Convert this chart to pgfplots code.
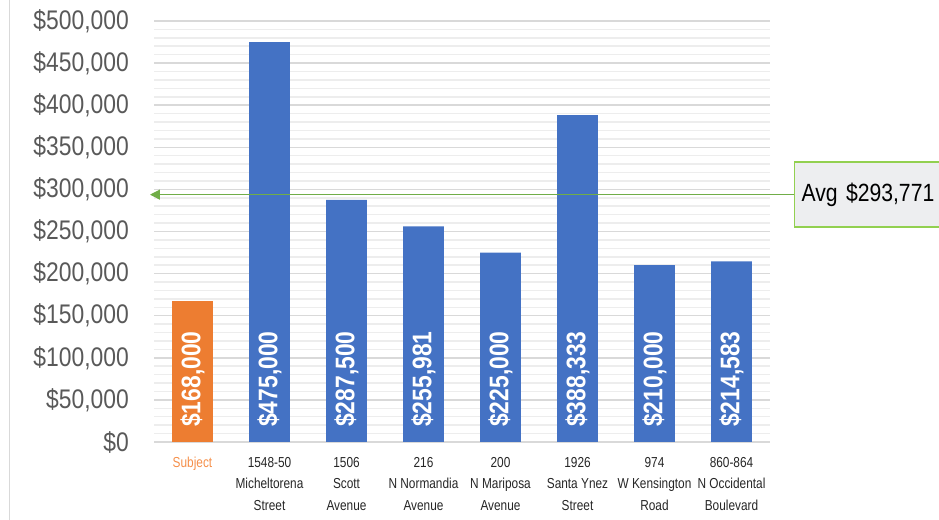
\documentclass[border=0pt]{standalone}
\usepackage{fontspec}
\setmainfont{Liberation Sans}
\newfontfamily\narrowfont[FakeStretch=0.85]{Liberation Sans}
\newfontfamily\catfont[FakeStretch=0.82]{Liberation Sans}
\usepackage{pgfplots}
\pgfplotsset{compat=1.18}
\usepackage{pgfplotstable}
\usetikzlibrary{arrows.meta}

\definecolor{barblue}{HTML}{4472C4}
\definecolor{barorange}{HTML}{ED7D31}
\definecolor{subjorange}{HTML}{F58F4A}
\definecolor{ticktext}{HTML}{595959}
\definecolor{cattext}{HTML}{262626}
\definecolor{majorgrid}{HTML}{D9D9D9}
\definecolor{minorgrid}{HTML}{EDEDED}
\definecolor{avgline}{HTML}{70AD47}
\definecolor{avgborder}{HTML}{92D050}
\definecolor{avgfill}{HTML}{EDEEF0}

% sale prices: subject property and comparables
\pgfplotstableread{
x v
0 168000
}\subjecttable
\pgfplotstableread{
x v
1 475000
2 287500
3 255981
4 225000
5 388333
6 210000
7 214583
}\compstable

\begin{document}
\begin{tikzpicture}[x=1bp,y=1bp]
\useasboundingbox (0,0) rectangle (939,520);
\draw[majorgrid, line width=1.5bp] (9.5,0) -- (9.5,520);
\begin{axis}[
  at={(154bp,78bp)}, anchor=south west,
  width=616bp, height=421bp, scale only axis,
  xmin=-0.5, xmax=7.5, ymin=0, ymax=500000,
  clip=false,
  axis line style={draw=none},
  tick style={draw=none},
  ytick={0,50000,...,500000},
  minor y tick num=4,
  ymajorgrids, yminorgrids,
  major grid style={majorgrid, line width=1.5bp},
  minor grid style={minorgrid, line width=1.5bp},
  scaled y ticks=false,
  /pgf/number format/assume math mode=true,
  yticklabel={\$\pgfmathprintnumber[fixed,precision=0,1000 sep={,}]{\tick}},
  yticklabel style={font=\narrowfont\fontsize{27}{30}\selectfont, text=ticktext,
    anchor=east, inner sep=0pt, xshift=-25bp},
  xtick={0,...,7},
  xticklabels={
    {\color{subjorange}Subject},
    {1548-50\\Micheltorena\\Street},
    {1506\\Scott\\Avenue},
    {216\\N Normandia\\Avenue},
    {200\\N Mariposa\\Avenue},
    {1926\\Santa Ynez\\Street},
    {974\\W Kensington\\Road},
    {860-864\\N Occidental\\Boulevard}},
  xticklabel style={font=\catfont\fontsize{14.5}{21.5}\selectfont, text=cattext,
    align=center, anchor=north, inner sep=0pt, yshift=-15bp},
]
\addplot[ybar, bar width=0.53, bar shift=0pt, fill=barorange, draw=none]
  table[x=x, y=v] {\subjecttable};
\addplot[ybar, bar width=0.53, bar shift=0pt, fill=barblue, draw=none]
  table[x=x, y=v] {\compstable};

% value labels set upright at the foot of each bar
\pgfplotsset{value labels/.style={
  draw=none, mark=none, point meta=explicit,
  nodes near coords={\$\pgfmathprintnumber[fixed,precision=0,1000 sep={,}]{\pgfplotspointmeta}},
  every node near coord/.append style={font=\narrowfont\bfseries\fontsize{27}{30}\selectfont,
    text=white, inner sep=0pt, anchor=west, yshift=15bp, rotate=90}}}
\addplot[value labels] table[x=x, y expr=0, meta=v] {\subjecttable};
\addplot[value labels] table[x=x, y expr=0, meta=v] {\compstable};

% average marker
\addplot[avgline, line width=1.2bp, {Triangle[length=10bp,width=10bp]}-]
  coordinates {(-0.552,293771) (7.81,293771)};
\node[anchor=west, draw=avgborder, line width=1.5bp, fill=avgfill,
  minimum height=65bp, text width=150bp, align=left, inner xsep=7bp,
  font=\narrowfont\fontsize{25}{28}\selectfont, text=black]
  at (axis cs:7.81,293771) {Avg \$293,771};
\end{axis}
\end{tikzpicture}
\end{document}
